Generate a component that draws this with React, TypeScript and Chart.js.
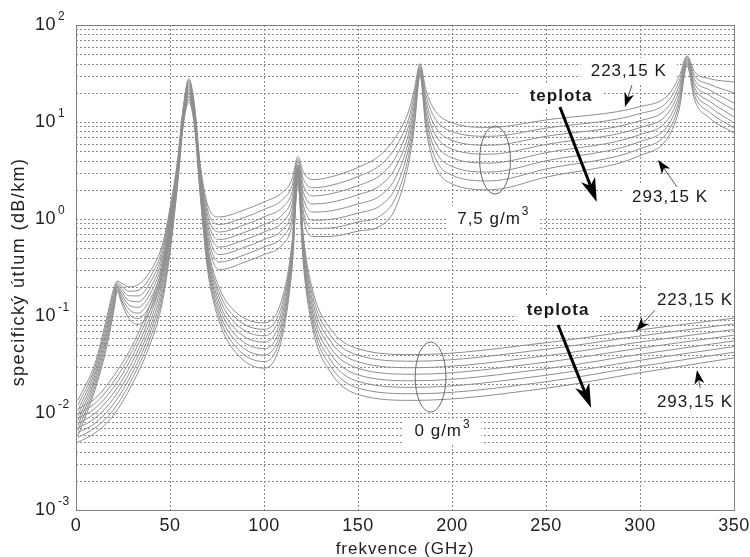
import React, { useEffect, useRef } from 'react';
import { Chart, registerables } from 'chart.js';

Chart.register(...registerables);

// ---------- data ----------
const temperatures = ['223,15 K', '233,15 K', '243,15 K', '253,15 K', '263,15 K', '273,15 K', '283,15 K', '293,15 K'];

// dry air (0 g/m3)
const dryFreq = [1, 10, 20, 30, 40, 46, 50, 54, 57, 60, 63, 66, 70, 76, 85, 100, 110, 115, 118, 121, 126, 135, 150, 180, 250, 300, 350];
const dry223 = [0.011, 0.014, 0.024, 0.05, 0.14, 0.33, 0.9, 3.5, 13, 27, 14, 3.0, 0.55, 0.2, 0.11, 0.085, 0.16, 0.6, 3.6, 0.65, 0.18, 0.075, 0.046, 0.04, 0.053, 0.072, 0.095];
const dry233 = [0.0098, 0.0125, 0.021, 0.044, 0.123, 0.292, 0.815, 3.28, 12.3, 25.1, 13.1, 2.79, 0.504, 0.178, 0.0958, 0.0729, 0.141, 0.551, 3.38, 0.59, 0.158, 0.0648, 0.0394, 0.0342, 0.0454, 0.0623, 0.083];
const dry243 = [0.0088, 0.0111, 0.0184, 0.0385, 0.107, 0.258, 0.739, 3.07, 11.7, 23.3, 12.3, 2.6, 0.462, 0.159, 0.0835, 0.0626, 0.124, 0.506, 3.17, 0.536, 0.138, 0.056, 0.0337, 0.0293, 0.0389, 0.0539, 0.0726];
const dry253 = [0.0078, 0.0099, 0.0161, 0.0337, 0.094, 0.229, 0.669, 2.87, 11.1, 21.6, 11.6, 2.42, 0.424, 0.142, 0.0727, 0.0537, 0.109, 0.464, 2.97, 0.487, 0.121, 0.0484, 0.0289, 0.0251, 0.0334, 0.0466, 0.0634];
const dry263 = [0.007, 0.0088, 0.0141, 0.0296, 0.082, 0.202, 0.606, 2.69, 10.6, 20.0, 10.9, 2.24, 0.389, 0.127, 0.0633, 0.0461, 0.0955, 0.426, 2.79, 0.442, 0.106, 0.0418, 0.0247, 0.0215, 0.0286, 0.0403, 0.0554];
const dry273 = [0.0063, 0.0078, 0.0124, 0.026, 0.072, 0.179, 0.549, 2.51, 10.0, 18.6, 10.2, 2.09, 0.357, 0.113, 0.0552, 0.0395, 0.084, 0.391, 2.61, 0.401, 0.093, 0.0361, 0.0212, 0.0184, 0.0245, 0.0349, 0.0484];
const dry283 = [0.0056, 0.007, 0.0108, 0.0228, 0.063, 0.158, 0.497, 2.35, 9.5, 17.2, 9.6, 1.94, 0.327, 0.101, 0.0481, 0.0339, 0.0738, 0.359, 2.45, 0.364, 0.082, 0.0312, 0.0181, 0.0158, 0.021, 0.0302, 0.0423];
const dry293 = [0.005, 0.0062, 0.0095, 0.02, 0.055, 0.14, 0.45, 2.2, 9.0, 16.0, 9.0, 1.8, 0.3, 0.09, 0.042, 0.029, 0.065, 0.33, 2.3, 0.33, 0.072, 0.027, 0.0155, 0.0135, 0.018, 0.026, 0.037];

// humid air (7,5 g/m3)
const wetFreq = [1, 10, 16, 20, 22, 24, 28, 33, 40, 46, 50, 54, 57, 60, 63, 66, 70, 76, 90, 100, 110, 115, 118, 121, 126, 135, 150, 162, 170, 177, 180, 183, 186, 190, 200, 220, 250, 300, 315, 321, 325, 329, 337, 350];
const wet223 = [0.0135, 0.032, 0.09, 0.19, 0.23, 0.22, 0.2, 0.21, 0.3, 0.55, 1.3, 4.0, 14, 28, 15, 3.8, 1.4, 1.05, 1.25, 1.5, 1.9, 2.6, 4.4, 3.0, 2.55, 2.7, 3.4, 4.6, 7.0, 13, 22, 40, 22, 14, 9.8, 8.8, 10.5, 14.4, 19, 30, 48, 33, 28, 25.8];
const wet233 = [0.012, 0.0292, 0.0815, 0.176, 0.222, 0.206, 0.18, 0.184, 0.263, 0.494, 1.2, 3.76, 13.3, 26.1, 14.2, 3.54, 1.24, 0.878, 1.046, 1.255, 1.59, 2.23, 4.13, 2.56, 2.1, 2.21, 2.74, 3.61, 5.5, 10.9, 19.4, 38.4, 19.4, 11.7, 7.97, 7.12, 8.65, 12.2, 16.5, 26.9, 46.4, 30.0, 24.5, 19.9];
const wet243 = [0.0106, 0.0267, 0.0738, 0.163, 0.214, 0.193, 0.162, 0.161, 0.231, 0.444, 1.11, 3.54, 12.7, 24.3, 13.4, 3.29, 1.1, 0.734, 0.876, 1.05, 1.33, 1.92, 3.87, 2.19, 1.73, 1.81, 2.21, 2.84, 4.32, 9.15, 17.0, 36.8, 17.0, 9.78, 6.48, 5.76, 7.12, 10.3, 14.3, 24.1, 44.9, 27.3, 21.4, 15.7];
const wet253 = [0.0094, 0.0244, 0.0669, 0.15, 0.207, 0.181, 0.145, 0.14, 0.202, 0.399, 1.03, 3.33, 12.1, 22.6, 12.6, 3.06, 0.974, 0.613, 0.733, 0.878, 1.117, 1.65, 3.63, 1.87, 1.43, 1.48, 1.78, 2.23, 3.4, 7.67, 15.0, 35.4, 15.0, 8.18, 5.27, 4.66, 5.87, 8.75, 12.4, 21.6, 43.4, 24.8, 18.8, 13.3];
const wet263 = [0.0083, 0.0223, 0.0606, 0.139, 0.2, 0.17, 0.131, 0.123, 0.178, 0.359, 0.95, 3.13, 11.6, 21.0, 11.9, 2.85, 0.863, 0.513, 0.614, 0.734, 0.936, 1.42, 3.4, 1.6, 1.18, 1.21, 1.43, 1.75, 2.67, 6.44, 13.2, 33.9, 13.2, 6.84, 4.28, 3.77, 4.83, 7.41, 10.7, 19.4, 42.0, 22.6, 16.4, 11.3];
const wet273 = [0.0074, 0.0204, 0.0549, 0.129, 0.193, 0.159, 0.118, 0.107, 0.156, 0.322, 0.88, 2.94, 11.0, 19.6, 11.2, 2.66, 0.765, 0.429, 0.514, 0.614, 0.784, 1.22, 3.19, 1.37, 0.971, 0.987, 1.15, 1.38, 2.1, 5.4, 11.6, 32.6, 11.6, 5.72, 3.48, 3.05, 3.98, 6.28, 9.29, 17.4, 40.6, 20.6, 14.4, 9.8];
const wet283 = [0.0066, 0.0186, 0.0497, 0.119, 0.186, 0.149, 0.106, 0.094, 0.137, 0.29, 0.81, 2.76, 10.5, 18.2, 10.6, 2.47, 0.677, 0.359, 0.43, 0.514, 0.657, 1.05, 2.99, 1.17, 0.8, 0.807, 0.93, 1.08, 1.65, 4.53, 10.2, 31.3, 10.2, 4.78, 2.83, 2.47, 3.28, 5.31, 8.05, 15.6, 39.3, 18.7, 12.6, 8.7];
const wet293 = [0.0058, 0.017, 0.045, 0.11, 0.18, 0.14, 0.095, 0.082, 0.12, 0.26, 0.75, 2.6, 10, 17, 10, 2.3, 0.6, 0.3, 0.36, 0.43, 0.55, 0.9, 2.8, 1.0, 0.66, 0.66, 0.75, 0.85, 1.3, 3.8, 9.0, 30, 9.0, 4.0, 2.3, 2.0, 2.7, 4.5, 7.0, 14, 38, 17, 11, 7.7];

const dryCurves = [dry223, dry233, dry243, dry253, dry263, dry273, dry283, dry293];
const wetCurves = [wet223, wet233, wet243, wet253, wet263, wet273, wet283, wet293];

const xTickValues = [0, 50, 100, 150, 200, 250, 300, 350];
const yDecadeExponents = [-3, -2, -1, 0, 1, 2];

const FONT = '"Liberation Sans", Arial, Helvetica, sans-serif';

// ---------- drawing helpers ----------
function withSup(ctx: CanvasRenderingContext2D, base: string, sup: string, x: number, y: number, size: number, align: 'left' | 'center' | 'right', bold = false) {
  const bf = `${bold ? 'bold ' : ''}${size}px ${FONT}`;
  const sf = `${bold ? 'bold ' : ''}${Math.round(size * 0.68)}px ${FONT}`;
  ctx.font = bf;
  const wb = ctx.measureText(base).width;
  ctx.font = sf;
  const ws = sup ? ctx.measureText(sup).width : 0;
  const gap = sup ? 1 : 0;
  const total = wb + gap + ws;
  const x0 = align === 'left' ? x : align === 'center' ? x - total / 2 : x - total;
  ctx.textAlign = 'left';
  ctx.textBaseline = 'middle';
  ctx.font = bf;
  ctx.fillText(base, x0, y);
  if (sup) {
    ctx.font = sf;
    ctx.fillText(sup, x0 + wb + gap, y - size * 0.42);
  }
  return { x0, w: total };
}

function drawArrow(ctx: CanvasRenderingContext2D, x1: number, y1: number, x2: number, y2: number, lw: number, lineColor: string, headLen: number, headW: number) {
  const ang = Math.atan2(y2 - y1, x2 - x1);
  const c = Math.cos(ang), s = Math.sin(ang);
  const bx = x2 - headLen * 0.7 * c, by = y2 - headLen * 0.7 * s;
  ctx.save();
  ctx.setLineDash([]);
  ctx.strokeStyle = lineColor;
  ctx.lineWidth = lw;
  ctx.beginPath();
  ctx.moveTo(x1, y1);
  ctx.lineTo(bx, by);
  ctx.stroke();
  ctx.fillStyle = '#000';
  ctx.beginPath();
  ctx.moveTo(x2, y2);
  ctx.lineTo(x2 - headLen * c - (headW / 2) * s, y2 - headLen * s + (headW / 2) * c);
  ctx.lineTo(x2 - headLen * 0.72 * c, y2 - headLen * 0.72 * s);
  ctx.lineTo(x2 - headLen * c + (headW / 2) * s, y2 - headLen * s - (headW / 2) * c);
  ctx.closePath();
  ctx.fill();
  ctx.restore();
}

// annotation placements in data coordinates
const labels = [
  { kind: 'bold', text: 'teplota', sup: '', f: 258, v: 18.5, align: 'center' as const },
  { kind: 'norm', text: '7,5 g/m', sup: '3', f: 222, v: 1.0, align: 'center' as const },
  { kind: 'norm', text: '223,15 K', sup: '', f: 294, v: 33.6, align: 'center' as const },
  { kind: 'norm', text: '293,15 K', sup: '', f: 316, v: 1.69, align: 'center' as const },
  { kind: 'bold', text: 'teplota', sup: '', f: 256.4, v: 0.115, align: 'center' as const },
  { kind: 'norm', text: '0 g/m', sup: '3', f: 195, v: 0.0064, align: 'center' as const },
  { kind: 'norm', text: '223,15 K', sup: '', f: 309, v: 0.146, align: 'left' as const },
  { kind: 'norm', text: '293,15 K', sup: '', f: 309, v: 0.013, align: 'left' as const },
];
const bigArrows = [
  { f1: 257.4, v1: 14.3, f2: 277, v2: 1.5 },
  { f1: 256.4, v1: 0.0807, f2: 274, v2: 0.0113 },
];
const smallArrows = [
  { f1: 295.7, v1: 24, f2: 292, v2: 14.3 },
  { f1: 319.7, v1: 2.14, f2: 309.6, v2: 4.06 },
  { f1: 308, v1: 0.115, f2: 297.9, v2: 0.07 },
  { f1: 332, v1: 0.0181, f2: 330.3, v2: 0.0277 },
];
const ellipses = [
  { f: 222.9, df: 8.2, vTop: 9.1, vBot: 1.81 },
  { f: 188.6, df: 8.2, vTop: 0.054, vBot: 0.0102 },
];

const decorPlugin = {
  id: 'decor',
  beforeDatasetsDraw(chart: any) {
    const { ctx, chartArea: a, scales } = chart;
    const x = scales.x, y = scales.y;
    ctx.save();
    // grid
    ctx.strokeStyle = '#8a8a8a';
    ctx.lineWidth = 1;
    ctx.setLineDash([2, 2]);
    for (let k = -3; k <= 1; k++) {
      for (let m = 1; m <= 9; m++) {
        if (k === -3 && m === 1) continue;
        const py = Math.round(y.getPixelForValue(m * Math.pow(10, k))) + 0.5;
        ctx.beginPath();
        ctx.moveTo(a.left, py);
        ctx.lineTo(a.right, py);
        ctx.stroke();
      }
    }
    for (const t of xTickValues) {
      if (t === 0 || t === 350) continue;
      const px = Math.round(x.getPixelForValue(t)) + 0.5;
      ctx.beginPath();
      ctx.moveTo(px, a.top);
      ctx.lineTo(px, a.bottom);
      ctx.stroke();
    }
    ctx.setLineDash([]);
    // white boxes behind annotation labels
    ctx.beginPath();
    ctx.rect(a.left, a.top, a.right - a.left, a.bottom - a.top);
    ctx.clip();
    ctx.letterSpacing = '1px';
    for (const l of labels) {
      ctx.font = `${l.kind === 'bold' ? 'bold ' : ''}17px ${FONT}`;
      const w = ctx.measureText(l.text).width + (l.sup ? 10 : 0);
      const px = x.getPixelForValue(l.f);
      const py = y.getPixelForValue(l.v);
      const x0 = l.align === 'center' ? px - w / 2 : px;
      ctx.fillStyle = '#fff';
      ctx.fillRect(x0 - 10, py - 13, w + 20, 26);
    }
    ctx.restore();
  },
  afterDatasetsDraw(chart: any) {
    const { ctx, chartArea: a, scales } = chart;
    const x = scales.x, y = scales.y;
    ctx.save();
    ctx.beginPath();
    ctx.rect(a.left, a.top, a.right - a.left, a.bottom - a.top);
    ctx.clip();
    ctx.letterSpacing = '1px';
    ctx.fillStyle = '#1a1a1a';
    for (const l of labels) {
      withSup(ctx, l.text, l.sup, x.getPixelForValue(l.f), y.getPixelForValue(l.v), 17, l.align, l.kind === 'bold');
    }
    ctx.letterSpacing = '0px';
    // ellipses
    ctx.strokeStyle = '#6a6a6a';
    ctx.lineWidth = 1;
    for (const e of ellipses) {
      const cx = x.getPixelForValue(e.f);
      const rx = x.getPixelForValue(e.f + e.df) - cx;
      const yt = y.getPixelForValue(e.vTop), yb = y.getPixelForValue(e.vBot);
      ctx.beginPath();
      ctx.ellipse(cx, (yt + yb) / 2, rx, (yb - yt) / 2, 0, 0, Math.PI * 2);
      ctx.stroke();
    }
    for (const ar of bigArrows) {
      drawArrow(ctx, x.getPixelForValue(ar.f1), y.getPixelForValue(ar.v1), x.getPixelForValue(ar.f2), y.getPixelForValue(ar.v2), 3, '#000', 24, 15);
    }
    for (const ar of smallArrows) {
      drawArrow(ctx, x.getPixelForValue(ar.f1), y.getPixelForValue(ar.v1), x.getPixelForValue(ar.f2), y.getPixelForValue(ar.v2), 1, '#555', 14, 10);
    }
    ctx.restore();

    // frame
    ctx.save();
    ctx.strokeStyle = '#808080';
    ctx.lineWidth = 1;
    ctx.strokeRect(Math.round(a.left) + 0.5, Math.round(a.top) + 0.5, Math.round(a.right - a.left), Math.round(a.bottom - a.top));

    // tick labels
    ctx.fillStyle = '#222';
    ctx.letterSpacing = '0.5px';
    for (const e of yDecadeExponents) {
      const py = y.getPixelForValue(Math.pow(10, e));
      ctx.font = `18px ${FONT}`;
      ctx.textAlign = 'right';
      ctx.textBaseline = 'middle';
      ctx.fillText('10', a.left - 20, py);
      ctx.font = `12px ${FONT}`;
      ctx.textAlign = 'left';
      ctx.fillText(String(e), a.left - 18, py - 8);
    }
    ctx.font = `18px ${FONT}`;
    ctx.textAlign = 'center';
    ctx.textBaseline = 'middle';
    for (const t of xTickValues) {
      ctx.fillText(String(t), x.getPixelForValue(t), a.bottom + 16);
    }
    // axis titles
    ctx.letterSpacing = '1px';
    ctx.font = `17px ${FONT}`;
    ctx.fillText('frekvence (GHz)', (a.left + a.right) / 2, a.bottom + 39);
    ctx.letterSpacing = '1.4px';
    ctx.font = `18px ${FONT}`;
    ctx.translate(19, 272);
    ctx.rotate(-Math.PI / 2);
    ctx.fillText('specifický útlum (dB/km)', 0, 0);
    ctx.restore();
  },
};

export default function App() {
  const canvasRef = useRef<HTMLCanvasElement>(null);
  useEffect(() => {
    const datasets: any[] = [];
    wetCurves.forEach((vals, i) => {
      datasets.push({
        label: `7,5 g/m3 ${temperatures[i]}`,
        data: wetFreq.map((f, j) => ({ x: f, y: vals[j] })),
        borderColor: '#8e8e8e',
        borderWidth: 1,
        pointRadius: 0,
        fill: false,
        cubicInterpolationMode: 'monotone',
      });
    });
    dryCurves.forEach((vals, i) => {
      datasets.push({
        label: `0 g/m3 ${temperatures[i]}`,
        data: dryFreq.map((f, j) => ({ x: f, y: vals[j] })),
        borderColor: '#8e8e8e',
        borderWidth: 1,
        pointRadius: 0,
        fill: false,
        cubicInterpolationMode: 'monotone',
      });
    });
    const chart = new Chart(canvasRef.current as HTMLCanvasElement, {
      type: 'line',
      data: { datasets },
      options: {
        responsive: false,
        animation: false,
        devicePixelRatio: 1,
        events: [],
        layout: { padding: { left: 76, top: 25, right: 16, bottom: 47 } },
        plugins: { legend: { display: false }, tooltip: { enabled: false } },
        scales: {
          x: { type: 'linear', min: 0, max: 350, display: false },
          y: { type: 'logarithmic', min: 0.001, max: 100, display: false },
        },
      },
      plugins: [decorPlugin],
    } as any);
    return () => chart.destroy();
  }, []);
  return (
    <div style={{ position: 'fixed', left: 0, top: 0, width: 750, height: 557, background: '#fff' }}>
      <canvas ref={canvasRef} width={750} height={557} style={{ display: 'block', width: 750, height: 557 }} />
    </div>
  );
}
